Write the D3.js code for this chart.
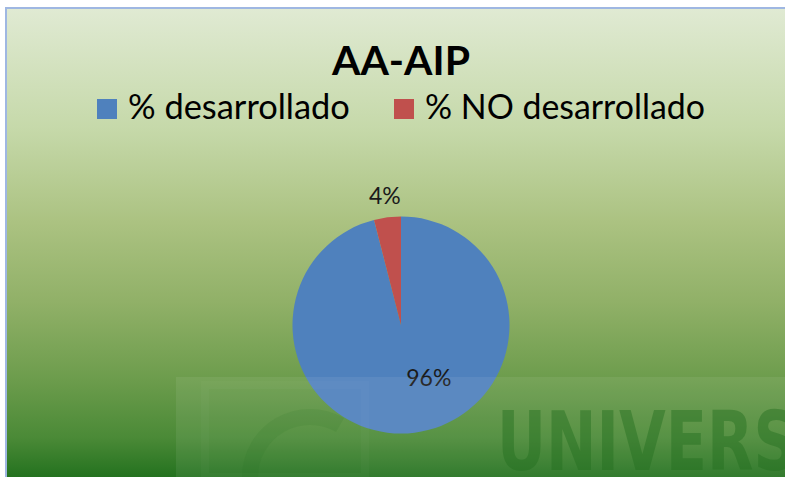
<!DOCTYPE html>
<html>
<head>
<meta charset="utf-8">
<script src="https://cdn.jsdelivr.net/npm/d3@7"></script>
<style>
  body { margin: 0; background: #fff; }
  svg { display: block; }
</style>
</head>
<body>
<div id="chart"></div>
<script>
const title = "AA-AIP"
const categories = ["% desarrollado", "% NO desarrollado"]
const values = [96, 4]
const valueLabels = ["96%", "4%"]
const colors = ["#4f81bd", "#c0504d"]

const W = 785, H = 477
const font = "Lato, 'Open Sans', sans-serif"

let svg = d3.select("#chart").append("svg")
  .attr("width", W)
  .attr("height", H)

// background gradient
let defs = svg.append("defs")
let grad = defs.append("linearGradient")
  .attr("id", "bg")
  .attr("x1", 0).attr("y1", 0).attr("x2", 0).attr("y2", 1)
let stops = [
  [0, "#e0ead3"], [0.25, "#c6d9aa"], [0.45, "#abc281"],
  [0.62, "#90b067"], [0.78, "#6c9c4c"], [0.9, "#4b8a37"], [1, "#1c6d1a"]
]
stops.forEach(s => grad.append("stop").attr("offset", s[0]).attr("stop-color", s[1]))

svg.append("rect")
  .attr("x", 6).attr("y", 8)
  .attr("width", W).attr("height", H)
  .attr("fill", "url(#bg)")
  .attr("stroke", "#9fb7e2")
  .attr("stroke-width", 2)

const fit = (sel, w) => {
  let len = sel.node().getComputedTextLength()
  let fs = parseFloat(sel.attr("font-size"))
  sel.attr("font-size", fs * w / len)
}

// title
let t = svg.append("text")
  .attr("x", 401).attr("y", 75)
  .attr("text-anchor", "middle")
  .attr("font-family", font)
  .attr("font-weight", "bold")
  .attr("font-size", 42)
  .attr("fill", "#000")
  .text(title)
fit(t, 138)

// legend
let legX = [97, 394], legW = [222, 280]
categories.forEach((c, i) => {
  svg.append("rect")
    .attr("x", legX[i]).attr("y", 99)
    .attr("width", 20).attr("height", 20)
    .attr("fill", colors[i])
  let lt = svg.append("text")
    .attr("x", legX[i] + 31).attr("y", 119)
    .attr("font-family", font)
    .attr("font-size", 30)
    .attr("fill", "#000")
    .text(c)
  fit(lt, legW[i])
})

// pie
const cx = 401, cy = 325, R = 108.5
let pie = d3.pie().sort(null)
let arcs = pie(values)
let arc = d3.arc().innerRadius(0).outerRadius(R)
let g = svg.append("g").attr("transform", `translate(${cx},${cy})`)
g.selectAll("path")
  .data(arcs)
  .join("path")
  .attr("d", arc)
  .attr("fill", (d, i) => colors[i])

// labels: small slice outside, big slice inside
let outArc = d3.arc().innerRadius(129).outerRadius(129)
let inArc = d3.arc().innerRadius(0).outerRadius(R)
g.selectAll("text.lbl")
  .data(arcs)
  .join("text")
  .attr("class", "lbl")
  .attr("transform", (d, i) => {
    let p = i == 0 ? inArc.centroid(d) : outArc.centroid(d)
    return `translate(${p[0] + (i == 0 ? 21 : 0)},${p[1] + 7})`
  })
  .attr("text-anchor", "middle")
  .attr("font-family", font)
  .attr("font-size", 23)
  .attr("fill", "#1a1a1a")
  .text((d, i) => valueLabels[i])

// faint watermark over the lower part
let wm = svg.append("g")
wm.append("rect")
  .attr("x", 176).attr("y", 377)
  .attr("width", W - 176).attr("height", H - 377)
  .attr("fill", "#fff").attr("opacity", 0.07)
wm.append("rect")
  .attr("x", 205).attr("y", 385)
  .attr("width", 160).attr("height", H - 385)
  .attr("fill", "none").attr("stroke", "#fff")
  .attr("stroke-opacity", 0.025).attr("stroke-width", 8)
wm.append("path")
  .attr("d", "M250,477 A60,60 0 0,1 340,425")
  .attr("fill", "none").attr("stroke", "#1f6a1c")
  .attr("stroke-opacity", 0.1).attr("stroke-width", 16)
wm.append("text")
  .attr("x", 497).attr("y", 470)
  .attr("font-family", "'DejaVu Sans', sans-serif")
  .attr("font-weight", "bold")
  .attr("font-size", 82)
  .attr("textLength", 300)
  .attr("lengthAdjust", "spacingAndGlyphs")
  .attr("fill", "#236f1f")
  .attr("opacity", 0.45)
  .text("UNIVERS")
</script>
</body>
</html>
